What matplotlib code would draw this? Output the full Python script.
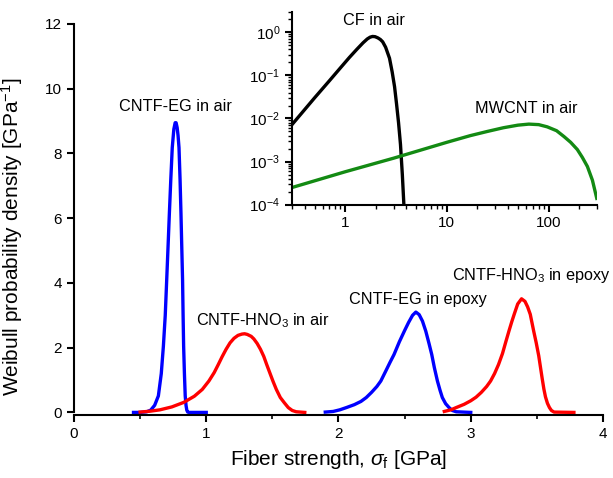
import matplotlib
matplotlib.use("Agg")
import matplotlib.pyplot as plt
from matplotlib.ticker import MultipleLocator, LogLocator, NullFormatter, FixedLocator

plt.rcParams["font.family"] = ["Liberation Sans", "DejaVu Sans"]
plt.rcParams["mathtext.fontset"] = "custom"
plt.rcParams["mathtext.rm"] = "Liberation Sans"
plt.rcParams["mathtext.it"] = "Liberation Sans:italic"

# CNTF-EG in air (blue)
eg_air_x = [0.45, 0.50, 0.55, 0.58, 0.61, 0.638, 0.66, 0.676, 0.69, 0.701, 0.711, 0.721,
            0.732, 0.743, 0.755, 0.765, 0.772, 0.78, 0.787, 0.794, 0.802, 0.809, 0.815,
            0.821, 0.825, 0.829, 0.835, 0.841, 0.847, 0.853, 0.86, 0.87, 1.0]
eg_air_y = [0.0, 0.0, 0.02, 0.07, 0.22, 0.51, 1.2, 2.05, 3.0, 4.09, 5.1, 6.13,
            7.2, 8.18, 8.75, 8.95, 8.95, 8.8, 8.55, 8.18, 7.2, 6.13, 5.1,
            4.09, 3.0, 2.05, 1.2, 0.51, 0.22, 0.07, 0.01, 0.0, 0.0]

# CNTF-HNO3 in air (red)
hno3_air_x = [0.50, 0.58, 0.65, 0.74, 0.83, 0.91, 0.97, 1.02, 1.06, 1.09, 1.12, 1.15,
              1.18, 1.21, 1.24, 1.27, 1.29, 1.31, 1.34, 1.36, 1.385, 1.41, 1.435, 1.457,
              1.48, 1.505, 1.53, 1.56, 1.59, 1.62, 1.65, 1.68, 1.745]
hno3_air_y = [0.01, 0.04, 0.08, 0.17, 0.31, 0.50, 0.71, 0.97, 1.23, 1.47, 1.72, 1.95,
              2.15, 2.29, 2.38, 2.42, 2.43, 2.41, 2.35, 2.27, 2.13, 1.95, 1.73, 1.48,
              1.23, 0.96, 0.71, 0.46, 0.30, 0.15, 0.06, 0.02, 0.0]

# CNTF-EG in epoxy (blue)
eg_epoxy_x = [1.90, 1.96, 2.01, 2.06, 2.12, 2.17, 2.21, 2.25, 2.29, 2.32, 2.36, 2.39,
              2.42, 2.46, 2.50, 2.53, 2.56, 2.585, 2.61, 2.635, 2.66, 2.685, 2.705,
              2.725, 2.748, 2.768, 2.785, 2.81, 2.836, 2.86, 2.89, 3.0]
eg_epoxy_y = [0.01, 0.03, 0.08, 0.15, 0.24, 0.34, 0.46, 0.62, 0.80, 0.97, 1.30, 1.55,
              1.79, 2.18, 2.53, 2.78, 3.0, 3.10, 3.02, 2.82, 2.51, 2.12, 1.79,
              1.38, 0.97, 0.68, 0.46, 0.27, 0.15, 0.06, 0.02, 0.0]

# CNTF-HNO3 in epoxy (red)
hno3_epoxy_x = [2.80, 2.85, 2.89, 2.95, 3.00, 3.04, 3.08, 3.12, 3.15, 3.18, 3.21, 3.24,
                3.265, 3.29, 3.31, 3.33, 3.355, 3.384, 3.41, 3.43, 3.45, 3.476, 3.495,
                3.514, 3.527, 3.54, 3.553, 3.565, 3.58, 3.595, 3.61, 3.63, 3.78]
hno3_epoxy_y = [0.03, 0.08, 0.15, 0.25, 0.36, 0.47, 0.62, 0.80, 0.97, 1.20, 1.48, 1.82,
                2.18, 2.53, 2.80, 3.05, 3.35, 3.51, 3.43, 3.26, 3.03, 2.51, 2.15,
                1.75, 1.40, 1.05, 0.72, 0.48, 0.28, 0.15, 0.06, 0.01, 0.0]

# inset: CF in air (black)
cf_x = [0.3, 0.5, 0.7, 0.9, 1.1, 1.3, 1.5, 1.65, 1.76, 1.86, 1.97, 2.1, 2.22, 2.34,
        2.5, 2.73, 2.9, 3.06, 3.2, 3.35, 3.5, 3.65, 3.78]
cf_y = [7.2e-3, 3.0e-2, 7.5e-2, 0.15, 0.26, 0.40, 0.57, 0.70, 0.77, 0.80, 0.79, 0.74,
        0.68, 0.60, 0.45, 0.25, 0.12, 5.5e-2, 2.2e-2, 8e-3, 2.5e-3, 5e-4, 1e-4]

# inset: MWCNT in air (green)
mw_x = [0.3, 1, 3, 10, 17, 25, 36, 50, 64, 80, 97, 120, 142, 165, 192, 215, 241, 270, 298]
mw_y = [2.5e-4, 5.8e-4, 1.2e-3, 2.8e-3, 4.0e-3, 5.0e-3, 6.1e-3, 7.0e-3, 7.4e-3, 7.2e-3,
        6.4e-3, 5.2e-3, 3.8e-3, 2.8e-3, 1.9e-3, 1.25e-3, 7.7e-4, 3.7e-4, 1.4e-4]

BLUE = "#0000ff"
RED = "#ff0000"
GREEN = "#138a13"
LW = 2.4

fig = plt.figure(figsize=(6.13, 4.78), dpi=100)
ax = fig.add_axes([0.1207, 0.1318, 0.863, 0.818])

for xs, ys, c in [(eg_air_x, eg_air_y, BLUE), (hno3_air_x, hno3_air_y, RED),
                  (eg_epoxy_x, eg_epoxy_y, BLUE), (hno3_epoxy_x, hno3_epoxy_y, RED)]:
    ax.plot(xs, ys, color=c, lw=LW, solid_joinstyle="round")

ax.set_xlim(0, 4)
ax.set_ylim(-0.08, 12)
ax.xaxis.set_major_locator(MultipleLocator(1))
ax.xaxis.set_minor_locator(MultipleLocator(0.5))
ax.yaxis.set_major_locator(MultipleLocator(2))
for s in ["top", "right"]:
    ax.spines[s].set_visible(False)
for s in ["left", "bottom"]:
    ax.spines[s].set_linewidth(1.5)
ax.spines["left"].set_bounds(0, 12)
ax.tick_params(which="major", direction="out", length=5, width=1.5, labelsize=11)
ax.tick_params(which="minor", direction="out", length=3, width=1.2)
ax.set_xlabel(r"Fiber strength, $\mathit{\sigma}_{\mathrm{f}}$ [GPa]", fontsize=15, labelpad=5)
ax.set_ylabel(r"Weibull probability density [GPa$^{-1}$]", fontsize=15)
ax.yaxis.set_label_coords(-0.093, 0.455)

# curve labels
ax.text(0.77, 9.45, "CNTF-EG in air", fontsize=11.7, ha="center", va="center")
ax.text(0.92, 2.55, r"CNTF-HNO$_3$ in air", fontsize=11.7, ha="left", va="bottom")
ax.text(2.60, 3.25, "CNTF-EG in epoxy", fontsize=11.7, ha="center", va="bottom")
ax.text(3.46, 3.95, r"CNTF-HNO$_3$ in epoxy", fontsize=11.7, ha="center", va="bottom")

# inset (log-log)
ins = fig.add_axes([0.4763, 0.5718, 0.4977, 0.4037])
ins.patch.set_alpha(0)
ins.plot(cf_x, cf_y, color="black", lw=LW, solid_joinstyle="round")
ins.plot(mw_x, mw_y, color=GREEN, lw=LW, solid_joinstyle="round")
ins.set_xscale("log")
ins.set_yscale("log")
ins.set_xlim(0.3, 300)
ins.set_ylim(1e-4, 3)
for s in ["top", "right"]:
    ins.spines[s].set_visible(False)
for s in ["left", "bottom"]:
    ins.spines[s].set_linewidth(1.5)
ins.xaxis.set_major_locator(FixedLocator([1, 10, 100]))
ins.set_xticklabels(["1", "10", "100"])
ins.xaxis.set_minor_locator(LogLocator(base=10, subs=range(2, 10)))
ins.xaxis.set_minor_formatter(NullFormatter())
ins.yaxis.set_major_locator(FixedLocator([1e-4, 1e-3, 1e-2, 1e-1, 1]))
ins.set_yticklabels([r"10$^{-4}$", r"10$^{-3}$", r"10$^{-2}$", r"10$^{-1}$", r"10$^{0}$"])
ins.yaxis.set_minor_locator(LogLocator(base=10, subs=range(2, 10)))
ins.yaxis.set_minor_formatter(NullFormatter())
ins.tick_params(which="major", direction="out", length=5, width=1.5, labelsize=11)
ins.tick_params(which="minor", direction="out", length=3, width=1.0)

ins.text(1.9, 1.25, "CF in air", fontsize=11.7, ha="center", va="bottom")
ins.text(61, 1.13e-2, "MWCNT in air", fontsize=11.7, ha="center", va="bottom")

fig.savefig("out.png", dpi=100)
